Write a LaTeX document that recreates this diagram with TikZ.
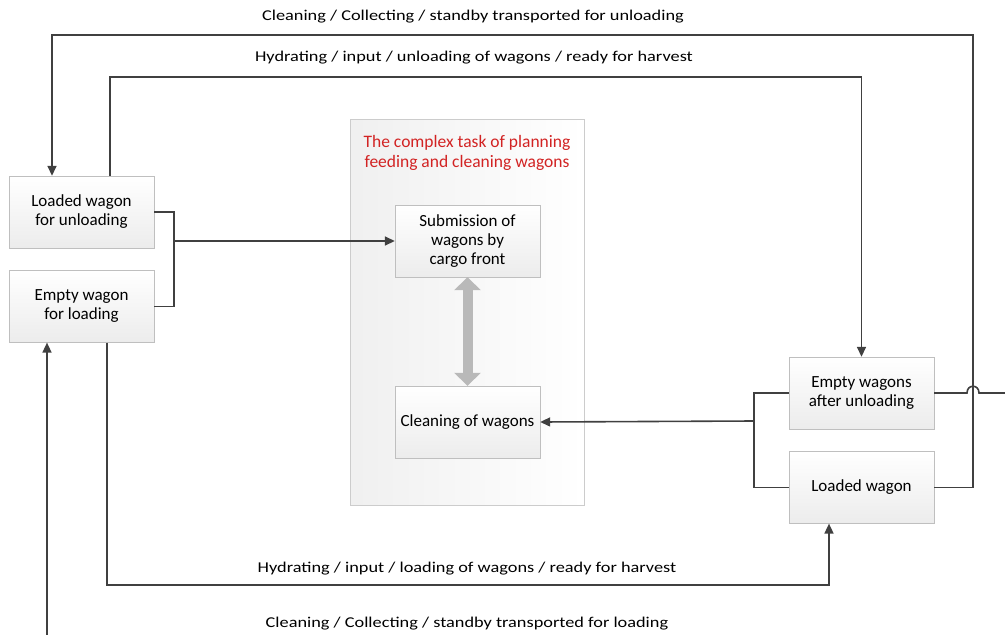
\documentclass[tikz,border=0pt]{standalone}
\usepackage{fontspec}
\setmainfont{Carlito}
\newfontfamily\capfont[FakeStretch=1.22]{Carlito}
\usetikzlibrary{positioning, arrows.meta, calc, shadows}

\definecolor{linegray}{RGB}{64,64,64}
\definecolor{titlered}{RGB}{210,35,35}

\begin{document}
\begin{tikzpicture}[x=1pt, y=-1pt,
  wagon/.style={draw=gray!50, top color=white, bottom color=gray!15,
    minimum width=145pt, minimum height=72pt, align=center,
    font=\fontsize{17}{19}\selectfont,
    drop shadow={shadow xshift=1pt, shadow yshift=-1pt, opacity=0.25}},
  task/.style={draw=gray!40, left color=gray!12, right color=white,
    minimum width=234pt, minimum height=386pt},
  flow/.style={draw=linegray, line width=1.6pt, -{Triangle[length=10pt, width=9pt]}},
  link/.style={draw=linegray, line width=1.6pt},
  twoway/.style={draw=gray!55, line width=10pt,
    {Triangle[length=13pt, width=26pt]}-{Triangle[length=13pt, width=26pt]}},
  caption/.style={font=\capfont\fontsize{15}{17}\selectfont}]
\useasboundingbox (0,0) rectangle (1005,635);

\node[task] (task) at (467,312) {};
\node[align=center, text=titlered, font=\fontsize{17.5}{20}\selectfont]
  (task-title) at (467,153) {The complex task of planning\\ feeding and cleaning wagons};

\node[wagon] (load-unl) at (81.5,212) {Loaded wagon\\ for unloading};
\node[wagon, below=22pt of load-unl] (empty-ld) {Empty wagon\\ for loading};
\node[wagon] (submit) at (467.5,241) {Submission of\\ wagons by\\ cargo front};
\node[wagon] (clean) at (467.5,422) {Cleaning of wagons};
\node[wagon] (empty-unl) at (861.5,393) {Empty wagons\\ after unloading};
\node[wagon, below=22pt of empty-unl] (loaded) {Loaded wagon};

% loop labels
\node[caption] (clean-unl) at (473,17) {Cleaning / Collecting / standby transported for unloading};
\node[caption] (hyd-unl) at (474,58) {Hydrating / input / unloading of wagons / ready for harvest};
\node[caption] (hyd-ld) at (467,569) {Hydrating / input / loading of wagons / ready for harvest};
\node[caption] (clean-ld) at (467,624) {Cleaning / Collecting / standby transported for loading};

\coordinate (join-l) at (174,241);
\coordinate (join-r) at (754,421);
\coordinate (ret-top) at (973,35);
\coordinate (hyd-top) at (474,77);
\coordinate (hyd-bot) at (467,585);
\coordinate (hop-a) at (967,393);
\coordinate (hop-b) at (979,393);
\coordinate (off-right) at (1005,393);
\coordinate (off-bot) at (47,635);

\draw[link] (load-unl.east) -| (join-l) |- (empty-ld.east);
\draw[flow] (join-l) -- (submit.west);
\draw[link] (empty-unl.west) -| (join-r) |- (loaded.west);
\draw[flow] (join-r) -- (clean.east);

\draw[twoway] (submit.south) -- (clean.north);

\draw[flow] (loaded.east) -| (ret-top) -| ([xshift=-29.5pt]load-unl.north);
\draw[flow] ([xshift=28.5pt]load-unl.north) |- (hyd-top) -| (empty-unl.north);
\draw[flow] ([xshift=25.5pt]empty-ld.south) |- (hyd-bot) -| ([xshift=-32.5pt]loaded.south);
\draw[flow] (off-bot) -- ([xshift=-34.5pt]empty-ld.south);
\draw[link] (empty-unl.east) -- (hop-a)
  .. controls ($(hop-a)+(0,-9)$) and ($(hop-b)+(0,-9)$) .. (hop-b) -- (off-right);

\end{tikzpicture}
\end{document}
